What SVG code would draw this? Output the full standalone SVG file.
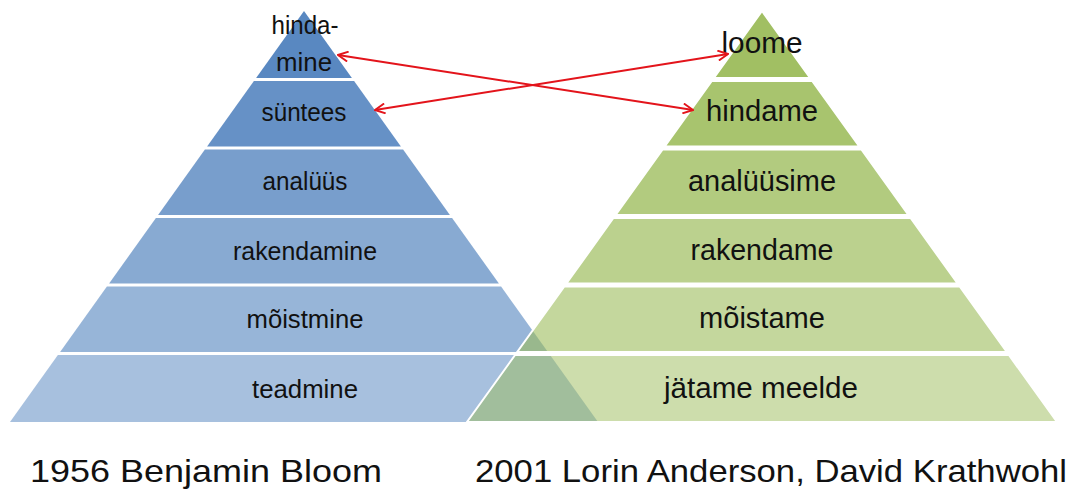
<svg xmlns="http://www.w3.org/2000/svg" width="1081" height="491" viewBox="0 0 1081 491">
<style>
.b{fill:#4F81BD}
.g{fill:#9BBB59;stroke:#ffffff;stroke-width:2;stroke-linejoin:miter}
.tb{font-family:"Liberation Sans",Arial,sans-serif;font-size:26px;fill:#111111;text-anchor:middle}
.tg{font-family:"Liberation Sans",Arial,sans-serif;font-size:29px;fill:#111111;text-anchor:middle}
.cap{font-family:"Liberation Sans",Arial,sans-serif;font-size:32px;fill:#111111}
.arr{fill:none;stroke:#e3141b;stroke-width:2}
</style>
<defs>
<marker id="ah" viewBox="0 0 12 12" refX="11" refY="6" markerWidth="12" markerHeight="12" markerUnits="userSpaceOnUse" orient="auto-start-reverse">
<path d="M1,1 L11,6 L1,11" fill="none" stroke="#e3141b" stroke-width="2"/>
</marker>
</defs>
<rect width="1081" height="491" fill="#ffffff"/>
<g id="bloom-pyramid">
<g id="b1"><polygon class="b" fill-opacity="0.94" points="304,11 351.9,78 256.1,78"/></g>
<g id="b2"><polygon class="b" fill-opacity="0.87" points="253.9,81 354.1,81 400.9,146.5 207.1,146.5"/></g>
<g id="b3"><polygon class="b" fill-opacity="0.77" points="204.9,149.5 403.1,149.5 449.9,215 158.1,215"/></g>
<g id="b4"><polygon class="b" fill-opacity="0.68" points="155.9,218 452.1,218 498.9,283.5 109.1,283.5"/></g>
<g id="b5"><polygon class="b" fill-opacity="0.59" points="106.9,286.5 501.1,286.5 547.9,352 60.1,352"/></g>
<g id="b6"><polygon class="b" fill-opacity="0.5" points="57.9,355 550.1,355 598,422 10,422"/></g>
</g>
<g id="anderson-pyramid">
<g id="g1"><polygon class="g" fill-opacity="0.94" points="762,11 810.1,78 713.9,78"/></g>
<g id="g2"><polygon class="g" fill-opacity="0.87" points="711.8,81 812.2,81 859.3,146.5 664.7,146.5"/></g>
<g id="g3"><polygon class="g" fill-opacity="0.77" points="662.6,149.5 861.4,149.5 908.4,215 615.6,215"/></g>
<g id="g4"><polygon class="g" fill-opacity="0.68" points="613.4,218 910.6,218 957.6,283.5 566.4,283.5"/></g>
<g id="g5"><polygon class="g" fill-opacity="0.59" points="564.3,286.5 959.7,286.5 1006.8,352 517.2,352"/></g>
<g id="g6"><polygon class="g" fill-opacity="0.5" points="515.1,355 1008.9,355 1057,422 467,422"/></g>
</g>
<g id="labels-blue">
<text class="tb" x="305" y="34" textLength="67" lengthAdjust="spacingAndGlyphs">hinda-</text>
<text class="tb" x="304" y="71" textLength="56" lengthAdjust="spacingAndGlyphs">mine</text>
<text class="tb" x="304" y="121" textLength="85" lengthAdjust="spacingAndGlyphs">süntees</text>
<text class="tb" x="305" y="190" textLength="85" lengthAdjust="spacingAndGlyphs">analüüs</text>
<text class="tb" x="305" y="260" textLength="144" lengthAdjust="spacingAndGlyphs">rakendamine</text>
<text class="tb" x="305" y="328" textLength="117" lengthAdjust="spacingAndGlyphs">mõistmine</text>
<text class="tb" x="305" y="398" textLength="106" lengthAdjust="spacingAndGlyphs">teadmine</text>
</g>
<g id="labels-green">
<text class="tg" x="762" y="53" textLength="81" lengthAdjust="spacingAndGlyphs">loome</text>
<text class="tg" x="762" y="121" textLength="112" lengthAdjust="spacingAndGlyphs">hindame</text>
<text class="tg" x="762" y="191" textLength="148" lengthAdjust="spacingAndGlyphs">analüüsime</text>
<text class="tg" x="762" y="260" textLength="143" lengthAdjust="spacingAndGlyphs">rakendame</text>
<text class="tg" x="762" y="328" textLength="126" lengthAdjust="spacingAndGlyphs">mõistame</text>
<text class="tg" x="761" y="398" textLength="194" lengthAdjust="spacingAndGlyphs">jätame meelde</text>
</g>
<g id="connectors">
<line class="arr" x1="338" y1="55" x2="693" y2="110" marker-start="url(#ah)" marker-end="url(#ah)"/>
<line class="arr" x1="375" y1="110" x2="728" y2="54" marker-start="url(#ah)" marker-end="url(#ah)"/>
</g>
<g id="captions">
<text class="cap" x="30" y="482" textLength="352" lengthAdjust="spacingAndGlyphs">1956 Benjamin Bloom</text>
<text class="cap" x="475" y="482" textLength="592" lengthAdjust="spacingAndGlyphs">2001 Lorin Anderson, David Krathwohl</text>
</g>
</svg>
